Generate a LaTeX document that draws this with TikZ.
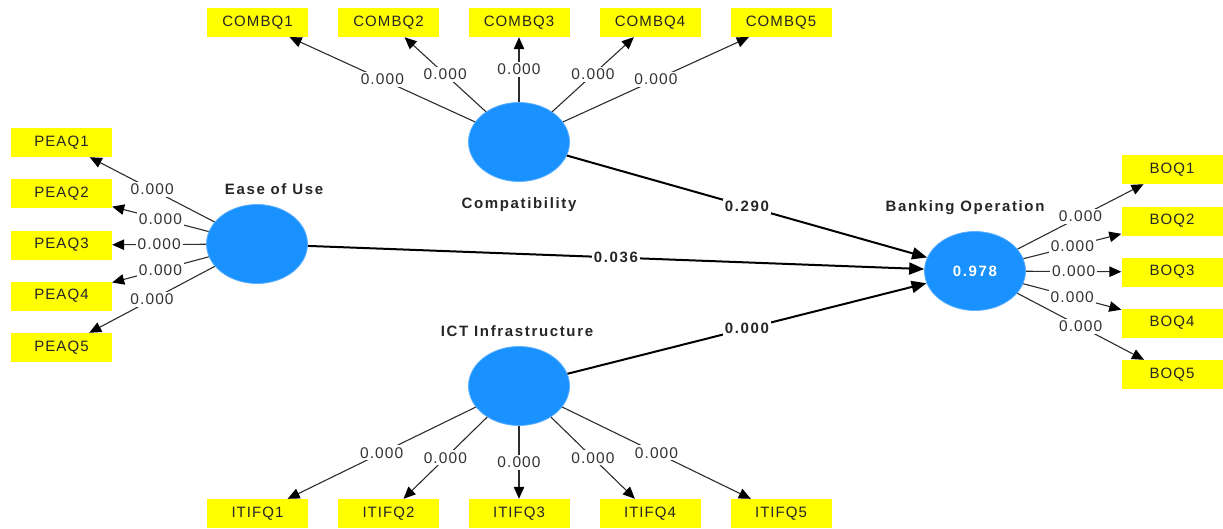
\documentclass[tikz,border=0pt]{standalone}
\usepackage{fontspec}
\setmainfont{Liberation Sans}[LetterSpace=7]
\newfontfamily\boldsp{Liberation Sans}[LetterSpace=11]
\usetikzlibrary{arrows.meta,shapes.geometric}
\definecolor{lvblue}{RGB}{25,145,255}
\definecolor{lvedge}{RGB}{90,175,255}
\definecolor{indyellow}{RGB}{255,255,0}
\definecolor{loadgray}{RGB}{45,45,45}
\tikzset{
  latent/.style={ellipse,fill=lvblue,draw=lvedge,line width=0.8pt,minimum width=101pt,minimum height=79pt,inner sep=0pt,
    font=\boldsp\bfseries\fontsize{15}{18}\selectfont,text=white},
  ind/.style={rectangle,fill=indyellow,minimum width=101pt,minimum height=29pt,inner sep=0pt,
    font=\fontsize{15}{18}\selectfont,text=black!85},
  lvname/.style={font=\boldsp\bfseries\fontsize{15}{18}\selectfont,text=black!85,inner sep=0pt},
  load/.style={draw=loadgray,line width=1.1pt,-{Triangle[length=12pt,width=10.5pt,color=black]}},
  pathc/.style={draw=black,line width=2pt,-{Triangle[length=15pt,width=12pt]}},
  lbl/.style={fill=white,inner sep=2pt,font=\fontsize{15.5}{18}\selectfont,text=black!80},
  plbl/.style={fill=white,inner sep=2pt,font=\boldsp\bfseries\fontsize{15}{18}\selectfont,text=black!85}
}
\begin{document}
\begin{tikzpicture}[x=1pt,y=-1pt]
\useasboundingbox (0,0) rectangle (1223,528);
% latent variables
\node[latent] (comp) at (519,142) {};
\node[latent] (ease) at (257,244) {};
\node[latent] (bank) at (975,271) {0.978};
\node[latent] (ict)  at (519,386) {};
% latent names
\node[lvname] (compname) at (519,205) {Compatibility};
\node[lvname] (easename) at (274,189) {Ease of Use};
\node[lvname] (bankname) at (965,208) {Banking Operation};
\node[lvname] (ictname)  at (517,331) {ICT Infrastructure};
% indicators
\node[ind] (cq1) at (257.5,22.5) {COMBQ1};
\node[ind] (cq2) at (388.5,22.5) {COMBQ2};
\node[ind] (cq3) at (519,22.5) {COMBQ3};
\node[ind] (cq4) at (650,22.5) {COMBQ4};
\node[ind] (cq5) at (781,22.5) {COMBQ5};
\node[ind] (iq1) at (257.5,513.5) {ITIFQ1};
\node[ind] (iq2) at (388.5,513.5) {ITIFQ2};
\node[ind] (iq3) at (519,513.5) {ITIFQ3};
\node[ind] (iq4) at (650,513.5) {ITIFQ4};
\node[ind] (iq5) at (781,513.5) {ITIFQ5};
\node[ind] (pq1) at (61.5,142.5) {PEAQ1};
\node[ind] (pq2) at (61.5,193.5) {PEAQ2};
\node[ind] (pq3) at (61.5,245) {PEAQ3};
\node[ind] (pq4) at (61.5,296) {PEAQ4};
\node[ind] (pq5) at (61.5,347.5) {PEAQ5};
\node[ind] (bq1) at (1172,169.5) {BOQ1};
\node[ind] (bq2) at (1172,221) {BOQ2};
\node[ind] (bq3) at (1172,272) {BOQ3};
\node[ind] (bq4) at (1172,323) {BOQ4};
\node[ind] (bq5) at (1172,374.5) {BOQ5};
% loadings
\foreach \t in {cq1,cq2,cq3,cq4,cq5}{\draw[load] (comp) -- node[lbl]{0.000} (\t);}
\foreach \t in {iq1,iq2,iq3,iq4,iq5}{\draw[load] (ict) -- node[lbl]{0.000} (\t);}
\foreach \t in {pq1,pq2,pq3,pq4,pq5}{\draw[load] (ease) -- node[lbl]{0.000} (\t);}
\foreach \t in {bq1,bq2,bq3,bq4,bq5}{\draw[load] (bank) -- node[lbl]{0.000} (\t);}
% paths
\draw[pathc] (comp) -- node[plbl]{0.290} (bank);
\draw[pathc] (ease) -- node[plbl]{0.036} (bank);
\draw[pathc] (ict) -- node[plbl]{0.000} (bank);
\end{tikzpicture}
\end{document}
